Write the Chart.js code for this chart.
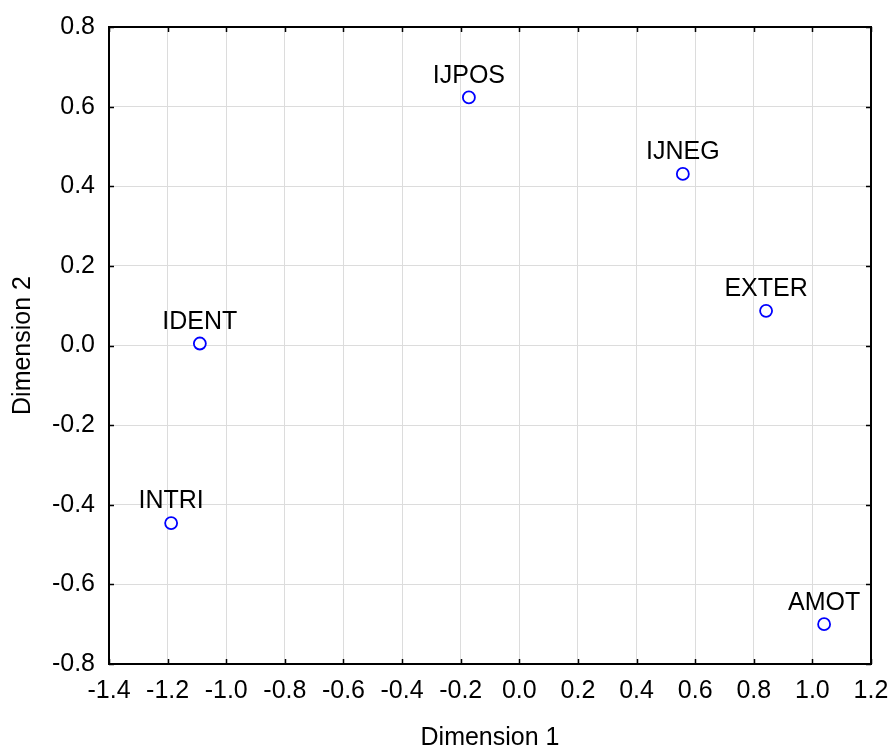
<!DOCTYPE html>
<html>
<head>
<meta charset="utf-8">
<script src="https://cdn.jsdelivr.net/npm/chart.js@4.4.0/dist/chart.umd.min.js"></script>
<style>
  html, body { margin: 0; padding: 0; background: white; }
  #wrap { width: 891px; height: 747px; }
</style>
</head>
<body>
<div id="wrap"><canvas id="myChart" width="891" height="747"></canvas></div>
<script>
var names = ["IJPOS", "IJNEG", "EXTER", "IDENT", "INTRI", "AMOT"];
var dim1 = [-0.172, 0.558, 0.842, -1.090, -1.188, 1.040];
var dim2 = [0.623, 0.431, 0.087, 0.005, -0.446, -0.700];
var x_min = -1.4, x_max = 1.2;
var y_min = -0.8, y_max = 0.8;

var points = [];
for (let i = 0; i < names.length; i++) {
    points.push({ x: dim1[i], y: dim2[i], name: names[i] });
}

// frame round the plot area plus inward tick marks
var frame_plugin = {
    id: 'frame',
    afterDatasetsDraw(chart) {
        let ctx = chart.ctx;
        let a = chart.chartArea;
        let xs = chart.scales.x, ys = chart.scales.y;
        ctx.save();
        ctx.strokeStyle = 'black';
        ctx.lineWidth = 2;
        ctx.strokeRect(a.left, a.top, a.right - a.left, a.bottom - a.top);
        ctx.lineWidth = 1.5;
        ctx.beginPath();
        xs.ticks.forEach(t => {
            let px = Math.round(xs.getPixelForValue(t.value)) + 0.5;
            ctx.moveTo(px, a.bottom); ctx.lineTo(px, a.bottom - 5);
            ctx.moveTo(px, a.top); ctx.lineTo(px, a.top + 5);
        });
        ys.ticks.forEach(t => {
            let py = Math.round(ys.getPixelForValue(t.value)) + 0.5;
            ctx.moveTo(a.left, py); ctx.lineTo(a.left + 5, py);
            ctx.moveTo(a.right, py); ctx.lineTo(a.right - 5, py);
        });
        ctx.stroke();
        // point labels
        ctx.fillStyle = 'black';
        ctx.font = '25px "Liberation Sans", Arial, sans-serif';
        ctx.textAlign = 'center';
        ctx.textBaseline = 'bottom';
        points.forEach(p => {
            ctx.fillText(p.name, xs.getPixelForValue(p.x), ys.getPixelForValue(p.y) - 9);
        });
        ctx.restore();
    }
};

var tick_font = { family: '"Liberation Sans", Arial, sans-serif', size: 25 };
var ctx = document.getElementById('myChart');
var chart = new Chart(ctx, {
    type: 'scatter',
    data: {
        datasets: [{
            data: points,
            pointRadius: 6,
            pointHoverRadius: 6,
            pointBorderColor: '#0000ff',
            pointBackgroundColor: 'white',
            pointBorderWidth: 1.8,
            showLine: false
        }]
    },
    options: {
        responsive: false,
        animation: false,
        events: [],
        layout: { padding: { left: 0, right: 20, top: 27, bottom: 0 } },
        scales: {
            x: {
                type: 'linear', min: x_min, max: x_max,
                grid: { color: '#dcdcdc', drawTicks: false },
                border: { display: false },
                ticks: {
                    stepSize: 0.2, color: 'black', font: tick_font, padding: 12,
                    maxRotation: 0, autoSkip: false,
                    callback: v => (Math.abs(v) < 1e-9 ? 0 : v).toFixed(1)
                },
                title: { display: true, text: 'Dimension 1', color: 'black',
                         font: { family: tick_font.family, size: 25 }, padding: { top: 8, bottom: -6 } },
                afterFit: s => { s.height = 83; s.paddingRight = 0; s.paddingLeft = 0; }
            },
            y: {
                type: 'linear', min: y_min, max: y_max,
                grid: { color: '#dcdcdc', drawTicks: false },
                border: { display: false },
                ticks: {
                    stepSize: 0.2, color: 'black', font: tick_font, padding: 14,
                    autoSkip: false,
                    callback: v => (Math.abs(v) < 1e-9 ? 0 : v).toFixed(1)
                },
                title: { display: true, text: 'Dimension 2', color: 'black',
                         font: { family: tick_font.family, size: 25 }, padding: { top: 8, bottom: 8 } },
                afterFit: s => { s.width = 109; s.paddingTop = 0; s.paddingBottom = 0; }
            }
        },
        plugins: {
            legend: { display: false },
            tooltip: { enabled: false }
        }
    },
    plugins: [frame_plugin]
});
</script>
</body>
</html>
